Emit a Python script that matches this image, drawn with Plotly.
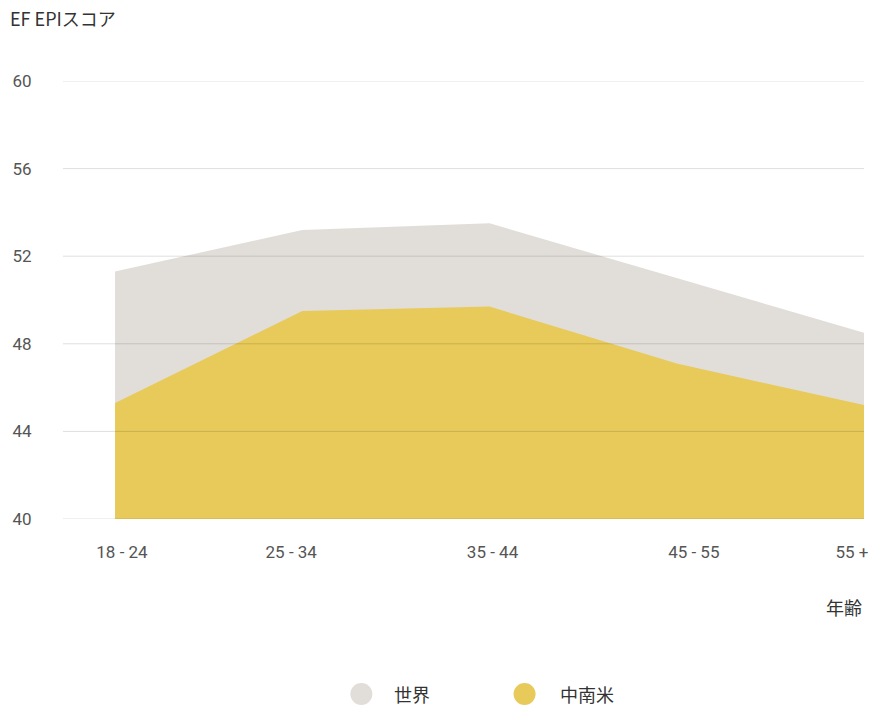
import plotly.graph_objects as go

# ---- data ----
age_groups = ["18 - 24", "25 - 34", "35 - 44", "45 - 55", "55 +"]
world_scores = [51.3, 53.2, 53.5, 51.0, 48.5]
latam_scores = [45.3, 49.5, 49.7, 47.1, 45.2]
series_names = ["世界", "中南米"]
y_ticks = [40, 44, 48, 52, 56, 60]

# ---- style ----
GREY = "#E1DEDA"
YELLOW = "#E8CA5A"
GRID = "rgba(0,0,0,0.13)"
CJK = "Noto Sans CJK JP"
NUM = "Roboto"

fig = go.Figure()
fig.add_trace(go.Scatter(x=age_groups, y=world_scores, name=series_names[0],
                         mode="lines", line=dict(width=0, color=GREY),
                         fill="tozeroy", fillcolor=GREY, showlegend=False,
                         hoverinfo="skip"))
fig.add_trace(go.Scatter(x=age_groups, y=latam_scores, name=series_names[1],
                         mode="lines", line=dict(width=0, color=YELLOW),
                         fill="tozeroy", fillcolor=YELLOW, showlegend=False,
                         hoverinfo="skip"))

# gridlines drawn above the areas
shapes = []
for v in y_ticks:
    shapes.append(dict(type="line", xref="paper", x0=0, x1=1, yref="y", y0=v, y1=v,
                       line=dict(color=GRID, width=1), layer="above"))

# manual legend
legend_items = [(series_names[0], GREY, 0.3725, 0.41125),
                (series_names[1], YELLOW, 0.57625, 0.6175)]
annotations = []
for name, col, cx, tx in legend_items:
    shapes.append(dict(type="circle", xref="paper", yref="paper",
                       xsizemode="pixel", ysizemode="pixel",
                       xanchor=cx, yanchor=-0.3995, x0=-11, x1=11, y0=-11, y1=11,
                       fillcolor=col, line=dict(width=0)))
    annotations.append(dict(text=name, xref="paper", yref="paper", x=tx, y=-0.3995,
                            xanchor="left", yanchor="middle", showarrow=False,
                            font=dict(family=CJK, size=18, color="#333333")))

annotations.append(dict(text="年齢", xref="paper", yref="paper", x=1.0, y=-0.201,
                        xanchor="right", yanchor="middle", showarrow=False,
                        font=dict(family=CJK, size=18, color="#333333")))

label_offsets = [0.037, -0.059, 0.016, 0.091, -0.064]
tick_positions = [i + off for i, off in enumerate(label_offsets)]

fig.update_layout(
    width=871, height=708,
    margin=dict(l=63, r=3, t=81, b=189),
    paper_bgcolor="white", plot_bgcolor="white",
    title=dict(text="EF EPIスコア", x=10 / 871, xanchor="left", xref="container",
               y=1 - 20 / 708, yref="container", yanchor="middle",
               font=dict(family=CJK, size=18, color="#333333")),
    xaxis=dict(type="category", range=[-0.278, 4], showgrid=False, zeroline=False,
               showline=False, tickmode="array", tickvals=tick_positions,
               ticktext=age_groups, ticks="outside", ticklen=18,
               tickcolor="rgba(0,0,0,0)",
               tickfont=dict(family=NUM, size=17, color="#555555")),
    yaxis=dict(range=[40, 60], tickvals=y_ticks, showgrid=False, zeroline=False,
               showline=False, ticks="outside", ticklen=27,
               tickcolor="rgba(0,0,0,0)",
               tickfont=dict(family=NUM, size=17, color="#555555")),
    shapes=shapes,
    annotations=annotations,
    showlegend=False,
)

fig.write_html("out.html")
